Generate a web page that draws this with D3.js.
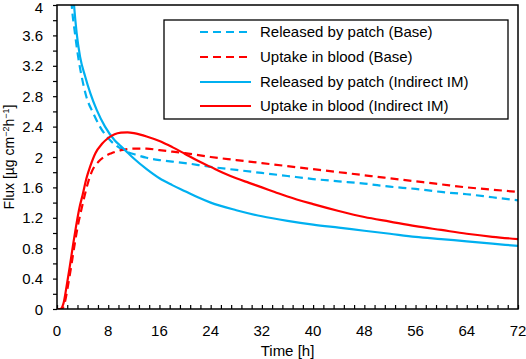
<!DOCTYPE html>
<html><head><meta charset="utf-8">
<script src="https://cdn.jsdelivr.net/npm/d3@7"></script>
<style>body{margin:0;background:#fff}svg{display:block}text{font-family:"Liberation Sans",Arial,sans-serif;fill:#000}</style>
</head><body><svg id="c" width="526" height="359"></svg>
<script>
const xTicks=[0,8,16,24,32,40,48,56,64,72];
const yTicks=[0,0.4,0.8,1.2,1.6,2,2.4,2.8,3.2,3.6,4];
const seriesNames=["Released by patch (Base)","Uptake in blood (Base)","Released by patch (Indirect IM)","Uptake in blood (Indirect IM)"];
const seriesColors=["#00B0F0","#FF0000","#00B0F0","#FF0000"];
const seriesDashed=[true,true,false,false];

const tReleasedBase=[2.0,2.3,2.8,3.3,3.85,4.6,5.7,6.7,8.3,10.4,12.5,14,16,18,20,24,28,32,36,40,44,48,52,56,60,64,68,72];
const vReleasedBase=[4.4,4.0,3.63,3.32,3.06,2.79,2.57,2.40,2.22,2.09,2.025,1.99,1.96,1.94,1.92,1.87,1.83,1.79,1.75,1.71,1.68,1.65,1.61,1.58,1.54,1.51,1.47,1.43];

const tUptakeBase=[0,0.7,1.2,1.7,2.2,2.7,3.2,3.7,4.2,4.9,5.5,6.5,7.5,8.5,10,12,14,16,18,20,24,28,32,36,40,44,48,52,56,60,64,68,72];
const vUptakeBase=[0,0,0.08,0.3,0.55,0.82,1.07,1.27,1.45,1.68,1.82,1.94,2.01,2.05,2.09,2.11,2.11,2.09,2.07,2.05,2.00,1.96,1.92,1.88,1.84,1.80,1.76,1.72,1.68,1.64,1.60,1.57,1.54];

const tReleasedIM=[2.3,2.66,3.07,3.6,4.4,5.2,6.2,7.5,9,10,11,12,14,16,18,20,22,24,28,32,36,40,44,48,52,56,60,64,68,72];
const vReleasedIM=[4.45,4.0,3.63,3.32,3.06,2.84,2.62,2.40,2.22,2.14,2.06,1.98,1.84,1.72,1.63,1.55,1.47,1.40,1.30,1.22,1.16,1.11,1.07,1.03,0.99,0.95,0.92,0.89,0.86,0.83];

const tUptakeIM=[0,0.5,1,1.5,2,2.5,3,3.5,4,4.6,5.2,6,7,8,9,10,11,12,13,14,16,18,20,22,24,26,28,30,32,34,36,40,44,48,52,56,60,64,68,72];
const vUptakeIM=[0,0,0.07,0.3,0.56,0.84,1.1,1.33,1.5,1.72,1.88,2.05,2.17,2.25,2.30,2.32,2.325,2.315,2.295,2.27,2.21,2.13,2.04,1.95,1.87,1.79,1.72,1.66,1.60,1.54,1.48,1.38,1.29,1.21,1.15,1.09,1.04,0.99,0.95,0.92];

const seriesT=[tReleasedBase,tUptakeBase,tReleasedIM,tUptakeIM];
const seriesV=[vReleasedBase,vUptakeBase,vReleasedIM,vUptakeIM];

const L=57,R=518,T=5,B=309;
const svg=d3.select("#c");
const x=d3.scaleLinear().domain([0,72]).range([L,R]);
const y=d3.scaleLinear().domain([0,4]).range([B,T]);

svg.append("defs").append("clipPath").attr("id","clip").append("rect")
  .attr("x",L).attr("y",T).attr("width",R-L).attr("height",B-T);

const line=d3.line().x(d=>x(d[0])).y(d=>y(d[1])).curve(d3.curveMonotoneX);
const g=svg.append("g").attr("clip-path","url(#clip)");
[0,1,2,3].forEach(i=>{
  const pts=seriesT[i].map((t,j)=>[t,seriesV[i][j]]);
  g.append("path").attr("d",line(pts)).attr("fill","none")
   .attr("stroke",seriesColors[i]).attr("stroke-width",2.2)
   .attr("stroke-dasharray",seriesDashed[i]?"8,5":null);
});

// axes
const xMinor=d3.range(0,72.01,1.6);
const yMinor=d3.range(0,4.01,0.2);
const xa=svg.append("g").attr("transform",`translate(0,${B})`)
  .call(d3.axisBottom(x).tickValues(xMinor).tickSize(-4).tickFormat(""));
xa.select(".domain").remove();
xa.selectAll("line").attr("stroke","#000").attr("stroke-width",1.2);
svg.append("g").selectAll("text").data(xTicks).join("text")
  .attr("x",d=>x(d)).attr("y",336).attr("text-anchor","middle").style("font-size","15px").text(d=>d);

const ya=svg.append("g").attr("transform",`translate(${L},0)`)
  .call(d3.axisLeft(y).tickValues(yMinor).tickSize(4).tickFormat(""));
ya.select(".domain").remove();
ya.selectAll("line").attr("stroke","#000").attr("stroke-width",1.2);
svg.append("g").selectAll("text").data(yTicks).join("text")
  .attr("x",43).attr("y",d=>Math.max(y(d)+5.6,13)).attr("text-anchor","end").style("font-size","15px")
  .text(d=>String(+d.toFixed(1)));

// frame
svg.append("rect").attr("x",L).attr("y",T).attr("width",R-L).attr("height",B-T)
  .attr("fill","none").attr("stroke","#000").attr("stroke-width",1.5);

// legend
svg.append("rect").attr("x",164).attr("y",20).attr("width",344).attr("height",99)
  .attr("fill","#fff").attr("stroke","#000").attr("stroke-width",1.3);
const legY=[32,57,82,106];
seriesNames.forEach((n,i)=>{
  svg.append("line").attr("x1",200).attr("x2",251).attr("y1",legY[i]).attr("y2",legY[i])
    .attr("stroke",seriesColors[i]).attr("stroke-width",2.2)
    .attr("stroke-dasharray",seriesDashed[i]?"8,5":null);
  svg.append("text").attr("x",260).attr("y",legY[i]).attr("dy","0.36em").style("font-size","15px").text(n);
});

// axis titles
svg.append("text").attr("x",(L+R)/2).attr("y",356).attr("text-anchor","middle").style("font-size","15px").text("Time [h]");
const yt=svg.append("text").attr("transform","translate(14,157) rotate(-90)").attr("text-anchor","middle").style("font-size","14px");
yt.append("tspan").text("Flux [µg cm");
yt.append("tspan").attr("baseline-shift","super").style("font-size","9px").text("−2");
yt.append("tspan").text("h");
yt.append("tspan").attr("baseline-shift","super").style("font-size","9px").text("−1");
yt.append("tspan").text("]");
</script></body></html>
